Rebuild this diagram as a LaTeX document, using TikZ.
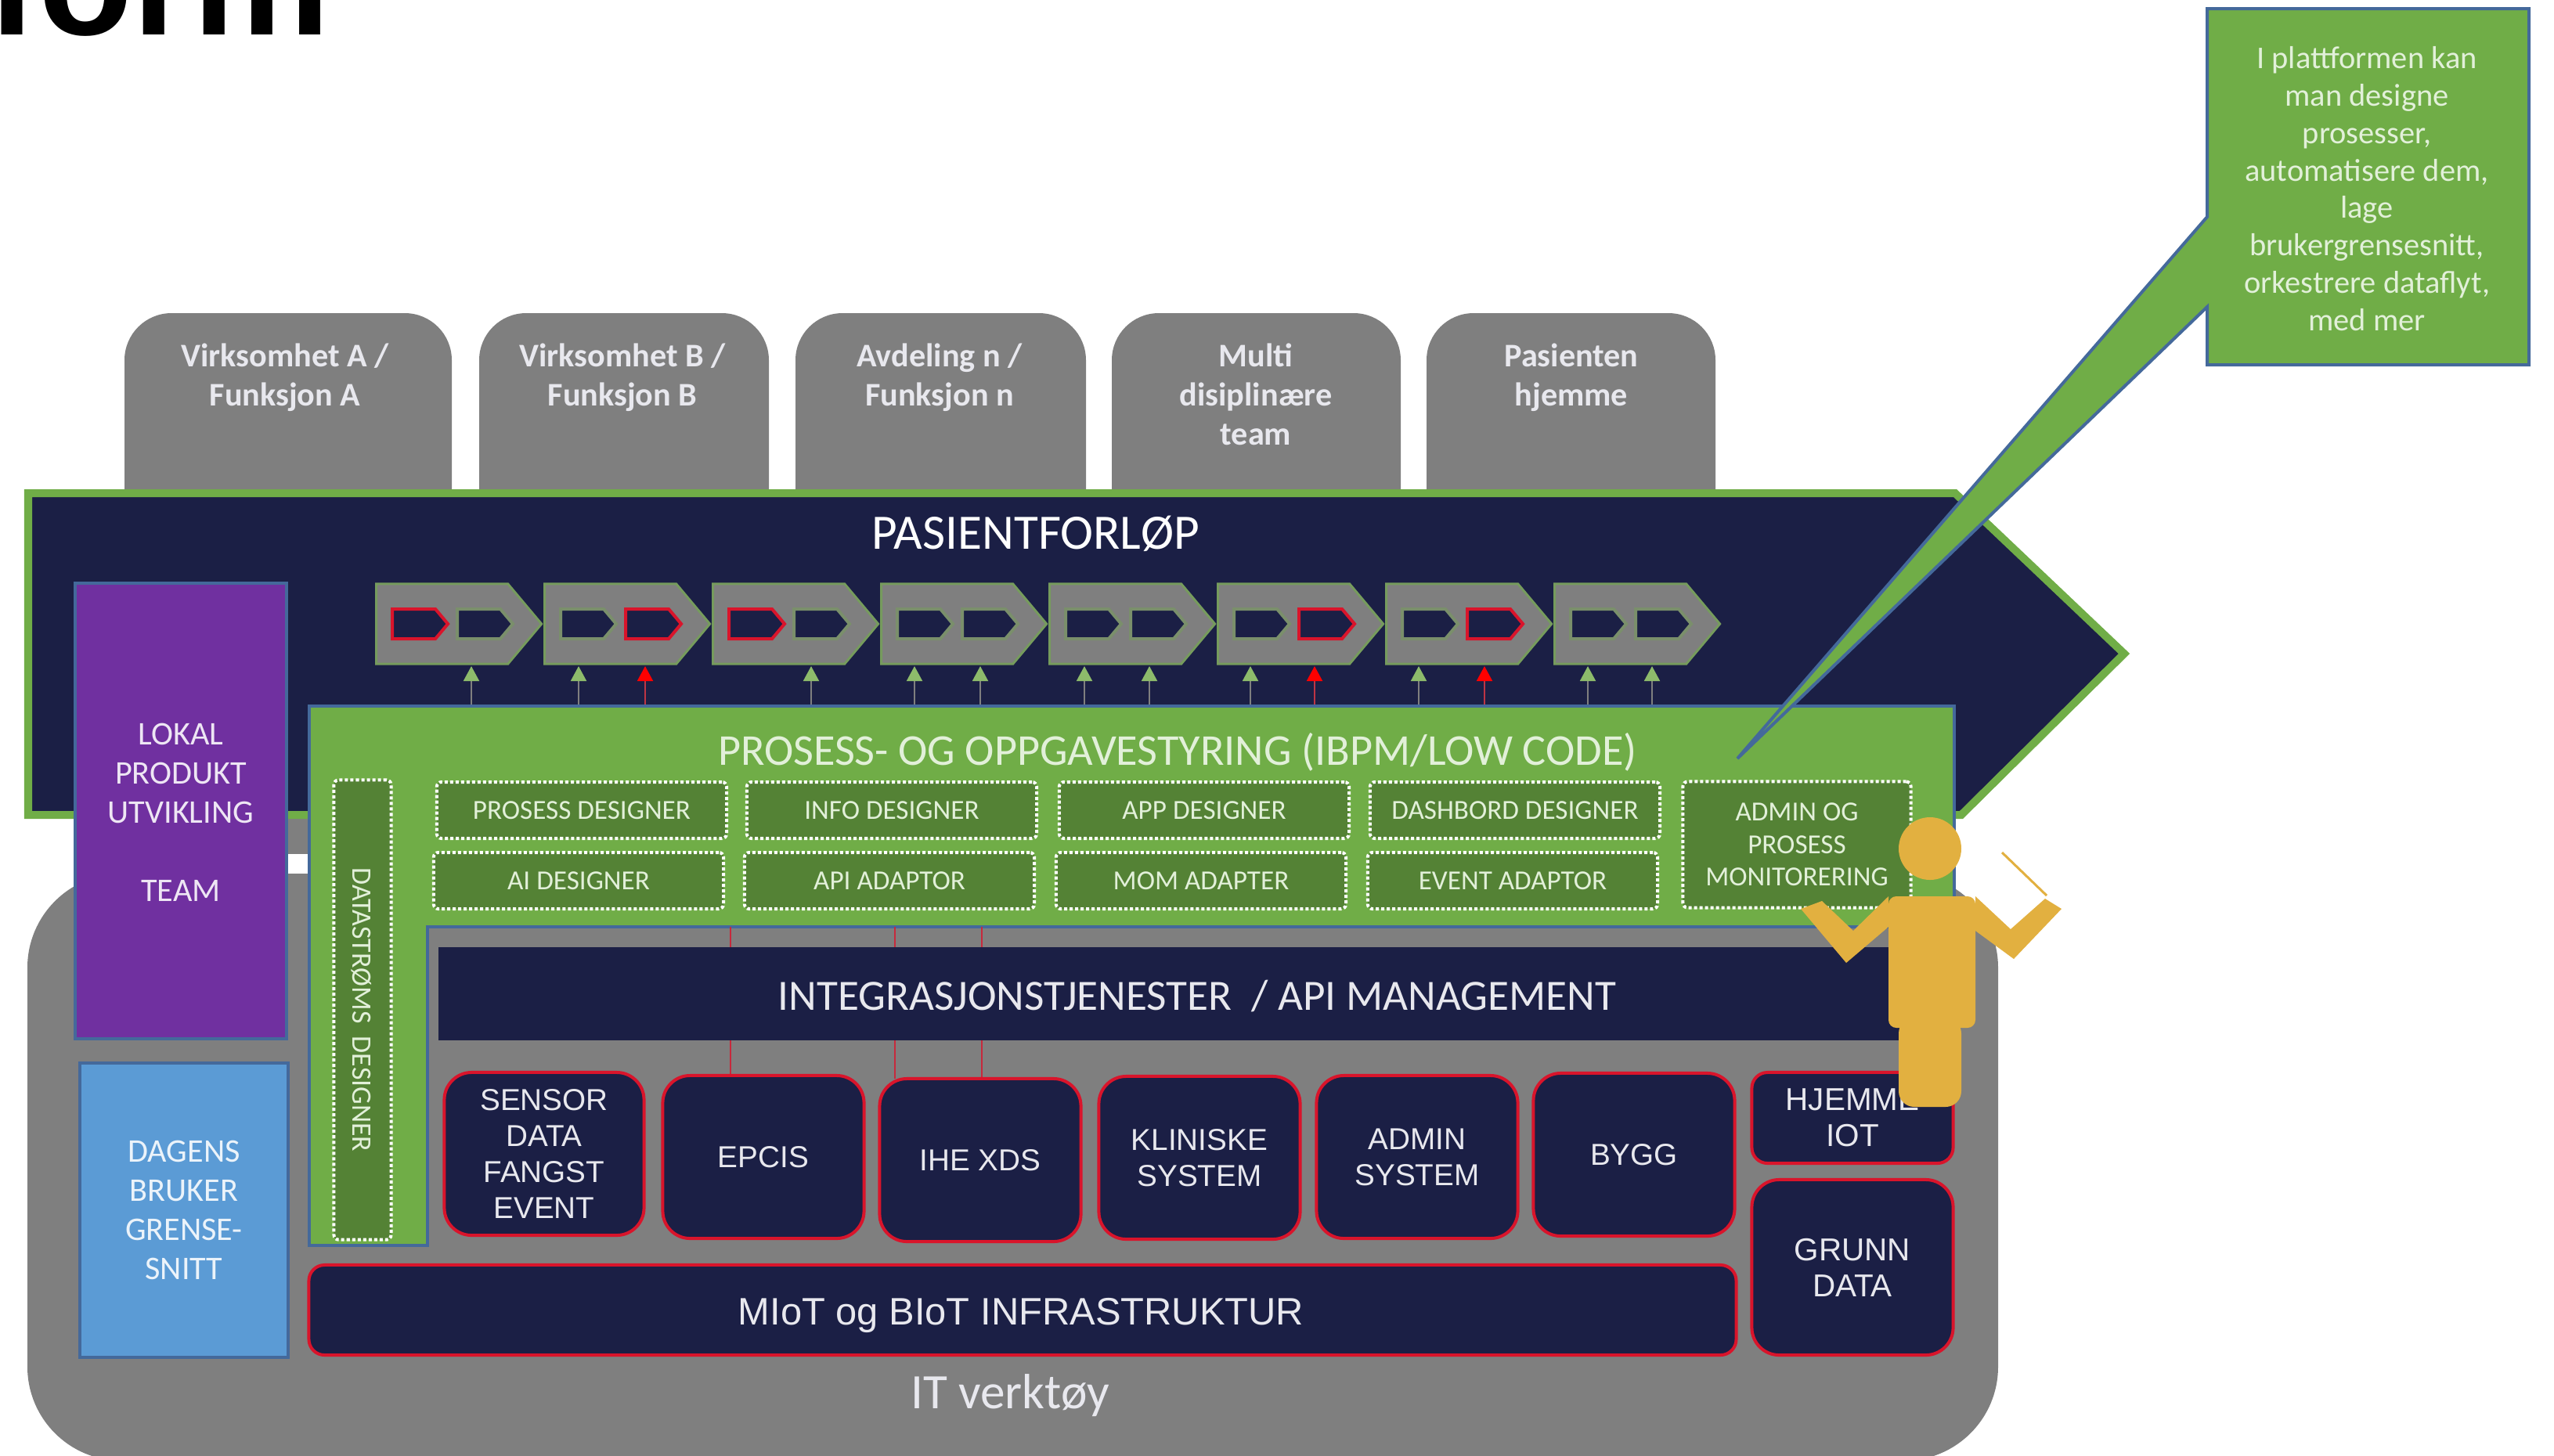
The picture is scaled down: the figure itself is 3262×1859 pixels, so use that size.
\documentclass[tikz,border=0pt]{standalone}
\usepackage{fontspec}
\setmainfont{Carlito}
\newfontfamily\arialfont{Liberation Sans}
\usetikzlibrary{arrows.meta,shapes.symbols}
\definecolor{navy}{HTML}{1B1F45}
\definecolor{leaf}{HTML}{70AD47}
\definecolor{moss}{HTML}{548235}
\definecolor{stone}{HTML}{7F7F7F}
\definecolor{plum}{HTML}{7030A0}
\definecolor{sky}{HTML}{5B9BD5}
\definecolor{edge}{HTML}{44699B}
\definecolor{gold}{HTML}{E2B040}
\definecolor{alarm}{HTML}{D9142B}
\definecolor{pale}{HTML}{8DBB6B}
\definecolor{mint}{HTML}{E2F0D9}
\definecolor{softwhite}{HTML}{E8E8EE}
\colorlet{dimleaf}{leaf!35!stone}
\tikzset{
  panel/.style={draw=edge,line width=0.4mm,inner sep=0pt,align=center,text=white,
    font=\fontsize{12}{14.2}\selectfont},
  dashbox/.style={draw=white,fill=moss,line width=0.4mm,dash pattern=on 0.4mm off 0.3mm,
    rounded corners=0.6mm,inner sep=0pt,align=center,text=mint,minimum height=0.72cm,
    minimum width=3.7cm,font=\fontsize{10}{11.8}\selectfont},
  sysbox/.style={draw=alarm,fill=navy,line width=0.4mm,rounded corners=3.5mm,inner sep=0pt,
    align=center,text=softwhite,font=\arialfont\fontsize{11}{13}\selectfont,
    minimum width=2.57cm,minimum height=2.08cm},
  tablabel/.style={inner sep=0pt,align=center,text=softwhite,
    font=\bfseries\fontsize{12}{14.2}\selectfont},
  chevron/.style={shape=signal,draw=leaf!60!stone,fill=stone,line width=0.3mm,inner sep=0pt,
    signal pointer angle=100,minimum width=2.11cm,minimum height=1.02cm},
  subchev/.style={shape=signal,fill=navy,line width=0.4mm,inner sep=0pt,
    signal pointer angle=100,minimum width=0.71cm,minimum height=0.38cm},
  goodarrow/.style={draw=stone,line width=0.2mm,-{Triangle[length=1.9mm,width=2mm,color=pale]}},
  badarrow/.style={draw=alarm!70!stone,line width=0.2mm,-{Triangle[length=1.9mm,width=2mm,color=red]}},
  redline/.style={draw=alarm!80!stone,line width=0.2mm},
  figure/.style={fill=gold,draw=none}
}
\begin{document}
\begin{tikzpicture}[x=0.01cm,y=-0.01cm]
  \useasboundingbox (0,0) rectangle (3262,1859);
  \node[anchor=base west,inner sep=0pt,font=\arialfont\bfseries\fontsize{56}{56}\selectfont] (heading) at (-17,44) {form};
  % tabs along the top
  \foreach \nm/\xa/\xb/\cx/\txt in {
    tabA/159/577/364/{Virksomhet A /\\Funksjon A},
    tabB/612/982/795/{Virksomhet B /\\Funksjon B},
    tabC/1016/1387/1200/{Avdeling n /\\Funksjon n},
    tabD/1420/1789/1604/{Multi\\disiplinære\\team},
    tabE/1822/2191/2007/{Pasienten\\hjemme}} {
    \fill[stone,rounded corners=6mm] (\xa,700) -- (\xa,400) -- (\xb,400) -- (\xb,700) -- cycle;
    \node[tablabel,anchor=north] (\nm) at (\cx,438) {\txt};
  }
  % IT tools base
  \fill[stone,rounded corners=12mm] (35,1116) rectangle (2552,1866);
  \fill[stone] (350,1040) rectangle (395,1091);
  \node[text=softwhite,inner sep=0pt,font=\fontsize{18}{21}\selectfont] (itverk) at (1290,1783) {IT verktøy};
  % patient pathway
  \draw[fill=navy,draw=leaf,line width=1mm,line join=miter] (36,630) -- (2497,630) -- (2713,835) -- (2505,1041) -- (36,1041) -- cycle;
  \node[text=white,inner sep=0pt,font=\fontsize{18}{21}\selectfont] (forlop) at (1323,682) {PASIENTFORLØP};
  \foreach \i/\ca/\cb in {1/alarm/dimleaf,2/dimleaf/alarm,3/alarm/dimleaf,4/dimleaf/dimleaf,5/dimleaf/dimleaf,6/dimleaf/alarm,7/dimleaf/alarm,8/dimleaf/dimleaf} {
    \node[chevron,anchor=west] (step\i) at ({479+215*(\i-1)},797) {};
    \node[subchev,draw=\ca,anchor=west] (step\i a) at ({499+215*(\i-1)},797) {};
    \node[subchev,draw=\cb,anchor=west] (step\i b) at ({582+215*(\i-1)},797) {};
  }
  \foreach \xpos/\st in {602/goodarrow,739/goodarrow,824/badarrow,1036/goodarrow,1168/goodarrow,1252/goodarrow,1385/goodarrow,1468/goodarrow,1597/goodarrow,1679/badarrow,1812/goodarrow,1896/badarrow,2028/goodarrow,2110/goodarrow} {
    \coordinate (foot) at (\xpos,902);
    \coordinate (head) at (\xpos,851);
    \draw[\st] (foot) -- (head);
  }
  % side panels
  \node[panel,fill=plum,minimum width=2.7cm,minimum height=5.82cm] (lokal) at (231,1036) {};
  \node[inner sep=0pt,align=center,text=plum!12!white,font=\fontsize{12}{14.2}\selectfont] (lokallab) at (231,1038)
    {LOKAL\\PRODUKT\\UTVIKLING\\[14.2pt]TEAM};
  \node[panel,fill=sky,minimum width=2.65cm,minimum height=3.75cm,text=sky!12!white] (dagens) at (235,1546)
    {DAGENS\\BRUKER\\GRENSE-\\SNITT};
  % process layer
  \draw[draw=edge,fill=leaf,line width=0.4mm] (395,902) -- (2496,902) -- (2496,1184) -- (546,1184) -- (546,1591) -- (395,1591) -- cycle;
  \node[text=mint,inner sep=0pt,font=\fontsize{16}{19}\selectfont] (styring) at (1504,961) {PROSESS- OG OPPGAVESTYRING (IBPM/LOW CODE)};
  \foreach \nm/\cx/\txt in {prosdes/743/PROSESS DESIGNER,infodes/1139/INFO DESIGNER,appdes/1538/APP DESIGNER,dashdes/1935/DASHBORD DESIGNER}
    \node[dashbox] (\nm) at (\cx,1035) {\txt};
  \foreach \nm/\cx/\txt in {aides/739/AI DESIGNER,apiadp/1136/API ADAPTOR,momadp/1534/MOM ADAPTER,evtadp/1932/EVENT ADAPTOR}
    \node[dashbox] (\nm) at (\cx,1125) {\txt};
  \node[dashbox,minimum width=2.91cm,minimum height=1.61cm] (adminmon) at (2295,1079) {ADMIN OG\\PROSESS\\MONITORERING};
  \node[dashbox,minimum width=0.73cm,minimum height=5.87cm] (datarect) at (463,1290) {};
  \node[rotate=-90,inner sep=0pt,text=mint,font=\fontsize{10.2}{12}\selectfont] (datalab) at (462,1290) {DATASTRØMS\ \ DESIGNER};
  % red links
  \foreach \xpos/\yend in {933/1374,1143/1378,1254/1378} {
    \coordinate (ra) at (\xpos,1184);
    \coordinate (rb) at (\xpos,1210);
    \coordinate (rc) at (\xpos,1329);
    \coordinate (rd) at (\xpos,\yend);
    \draw[redline] (ra) -- (rb);
    \draw[redline] (rc) -- (rd);
  }
  % integration and systems
  \node[fill=navy,inner sep=0pt,minimum width=18.64cm,minimum height=1.19cm] (intbar) at (1493,1269.5) {};
  \node[text=softwhite,inner sep=0pt,font=\fontsize{15.7}{19}\selectfont] (intlab) at (1529,1272) {INTEGRASJONSTJENESTER\ \ / API MANAGEMENT};
  \node[sysbox,minimum width=2.55cm] (sensor) at (695,1474) {SENSOR\\DATA\\FANGST\\EVENT};
  \node[sysbox] (epcis) at (975,1478) {EPCIS};
  \node[sysbox] (ihe) at (1252,1482) {IHE XDS};
  \node[sysbox] (klinisk) at (1532,1479) {KLINISKE\\SYSTEM};
  \node[sysbox] (admin) at (1810,1478) {ADMIN\\SYSTEM};
  \node[sysbox] (bygg) at (2087,1475) {BYGG};
  \node[sysbox,minimum height=1.16cm,rounded corners=2mm,font=\arialfont\fontsize{11.5}{13}\selectfont] (hjemme) at (2366,1428) {HJEMME\\IOT};
  \node[sysbox,minimum height=2.24cm,font=\arialfont\fontsize{11.5}{13}\selectfont] (grunn) at (2366,1619) {GRUNN\\DATA};
  \node[sysbox,minimum width=18.22cm,minimum height=1.15cm,rounded corners=2mm] (miot) at (1306,1673.5) {};
  \node[text=softwhite,inner sep=0pt,font=\arialfont\fontsize{13.9}{16}\selectfont] (miotlab) at (1304,1680) {MIoT og BIoT INFRASTRUKTUR};
  % callout
  \draw[draw=edge,fill=leaf,line width=0.4mm,line join=miter] (2819,11) -- (3230,11) -- (3230,466) -- (2819,466) -- (2819,392) -- (2219,969) -- (2819,277) -- cycle;
  \node[inner sep=0pt,align=center,text=mint,font=\fontsize{11.5}{13.6}\selectfont] (callout) at (3023,241)
    {I plattformen kan\\man designe\\prosesser,\\automatisere dem,\\lage\\brukergrensesnitt,\\orkestrere dataflyt,\\med mer};
  % conductor
  \fill[figure] (2465,1084) circle (40);
  \fill[figure,rounded corners=2mm] (2425,1300) -- (2505,1300) -- (2505,1414) -- (2425,1414) -- cycle;
  \fill[figure,rounded corners=1mm] (2412,1145) -- (2523,1145) -- (2523,1313) -- (2412,1313) -- cycle;
  \fill[figure] (2412,1145) -- (2367,1189) -- (2327,1151) -- (2300,1161) -- (2358,1230) -- (2412,1184) -- cycle;
  \fill[figure] (2523,1145) -- (2568,1187) -- (2612,1148) -- (2633,1161) -- (2572,1225) -- (2523,1189) -- cycle;
  \coordinate (batona) at (2557,1089);
  \coordinate (batonb) at (2614,1144);
  \draw[gold,line width=0.3mm] (batona) -- (batonb);
\end{tikzpicture}
\end{document}
